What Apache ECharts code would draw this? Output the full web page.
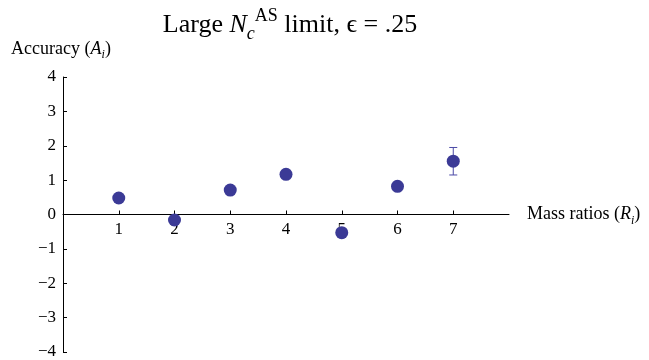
<!DOCTYPE html>
<html>
<head>
<meta charset="utf-8">
<script src="https://cdn.jsdelivr.net/npm/echarts@6/dist/echarts.min.js"></script>
<style>
  html, body { margin: 0; padding: 0; background: #fff; }
  #chart { width: 649px; height: 360px; }
</style>
</head>
<body>
<div id="chart"></div>
<script>
// data
const ratios = [1, 2, 3, 4, 5, 6, 7];
const accuracy = [0.48, -0.16, 0.71, 1.17, -0.53, 0.82, 1.55];
const errors = [0, 0, 0, 0, 0, 0, 0.4];   // only the last one sticks out of its dot
const yTicks = [-4, -3, -2, -1, 0, 1, 2, 3, 4];

const serif = '"Liberation Serif", "DejaVu Serif", serif';
const dotColor = '#3b3a96';

// plot box, the x axis sits on y = 0 in the middle of it
const gridTop = 77, gridBottom = 8;
const plotH = 360 - gridTop - gridBottom;

const label = (size, extra) => Object.assign({
  fontFamily: serif, fontSize: size, fontWeight: 'normal', color: '#000'
}, extra);

const chart = echarts.init(document.getElementById('chart'), null, { renderer: 'canvas' });

const option = {
  animation: false,
  title: {
    text: '{n|Large }{it|N}{sub|c}{sup|AS}{n| limit, \u03f5 = .25}',
    left: 285,
    textAlign: 'center',
    top: 2,
    textStyle: {
      fontWeight: 'normal',
      rich: {
        n: label(26, { lineHeight: 36, verticalAlign: 'middle' }),
        it: label(26, { fontStyle: 'italic', lineHeight: 36, verticalAlign: 'middle' }),
        sub: label(18, { fontStyle: 'italic', lineHeight: 36, verticalAlign: 'bottom' }),
        sup: label(18, { lineHeight: 36, verticalAlign: 'top' })
      }
    }
  },
  grid: { left: 63, right: 140, top: gridTop, bottom: gridBottom, containLabel: false, outerBoundsMode: 'none' },
  xAxis: {
    type: 'value',
    min: 0,
    max: 8,
    interval: 1,
    position: 'bottom',
    offset: -plotH / 2,
    name: '{n|Mass ratios (}{it|R}{sub|i}{n|)}',
    nameLocation: 'end',
    nameGap: 18,
    nameTextStyle: {
      rich: {
        n: label(18, { lineHeight: 24, verticalAlign: 'middle' }),
        it: label(18, { fontStyle: 'italic', lineHeight: 24, verticalAlign: 'middle' }),
        sub: label(12, { fontStyle: 'italic', lineHeight: 24, verticalAlign: 'bottom' })
      }
    },
    axisLine: { onZero: false, lineStyle: { color: '#000', width: 1 } },
    axisTick: { show: true, inside: true, length: 4, customValues: ratios, lineStyle: { color: '#000' } },
    axisLabel: Object.assign({ customValues: ratios, margin: 7 }, label(17)),
    splitLine: { show: false }
  },
  yAxis: {
    type: 'value',
    min: -4,
    max: 4,
    interval: 1,
    name: '{n|Accuracy (}{it|A}{sub|i}{n|)}',
    nameLocation: 'end',
    nameGap: 16,
    nameTextStyle: {
      padding: [0, 4, 0, 0],
      rich: {
        n: label(18, { lineHeight: 24, verticalAlign: 'middle' }),
        it: label(18, { fontStyle: 'italic', lineHeight: 24, verticalAlign: 'middle' }),
        sub: label(12, { fontStyle: 'italic', lineHeight: 24, verticalAlign: 'bottom' })
      }
    },
    axisLine: { show: true, onZero: false, lineStyle: { color: '#000', width: 1 } },
    axisTick: { show: true, inside: true, length: 4, lineStyle: { color: '#000' } },
    axisLabel: Object.assign({
      customValues: yTicks,
      formatter: v => (v < 0 ? '\u2212' + Math.abs(v) : String(v)),
      margin: 7
    }, label(17)),
    splitLine: { show: false }
  },
  series: [
    {
      type: 'custom',
      z: 1,
      data: ratios.map((r, i) => [r, accuracy[i], errors[i]]),
      renderItem: (params, api) => {
        const err = api.value(2);
        if (!err) return null;
        const x = api.value(0), y = api.value(1);
        const top = api.coord([x, y + err]);
        const bot = api.coord([x, y - err]);
        const cap = 4;
        const style = { stroke: '#4b49a6', lineWidth: 1 };
        return {
          type: 'group',
          children: [
            { type: 'line', shape: { x1: top[0], y1: top[1], x2: bot[0], y2: bot[1] }, style },
            { type: 'line', shape: { x1: top[0] - cap, y1: top[1], x2: top[0] + cap, y2: top[1] }, style },
            { type: 'line', shape: { x1: bot[0] - cap, y1: bot[1], x2: bot[0] + cap, y2: bot[1] }, style }
          ]
        };
      }
    },
    {
      type: 'scatter',
      z: 2,
      symbol: 'circle',
      symbolSize: 13,
      itemStyle: { color: dotColor, opacity: 1 },
      data: ratios.map((r, i) => [r, accuracy[i]])
    }
  ]
};

chart.setOption(option);
</script>
</body>
</html>
